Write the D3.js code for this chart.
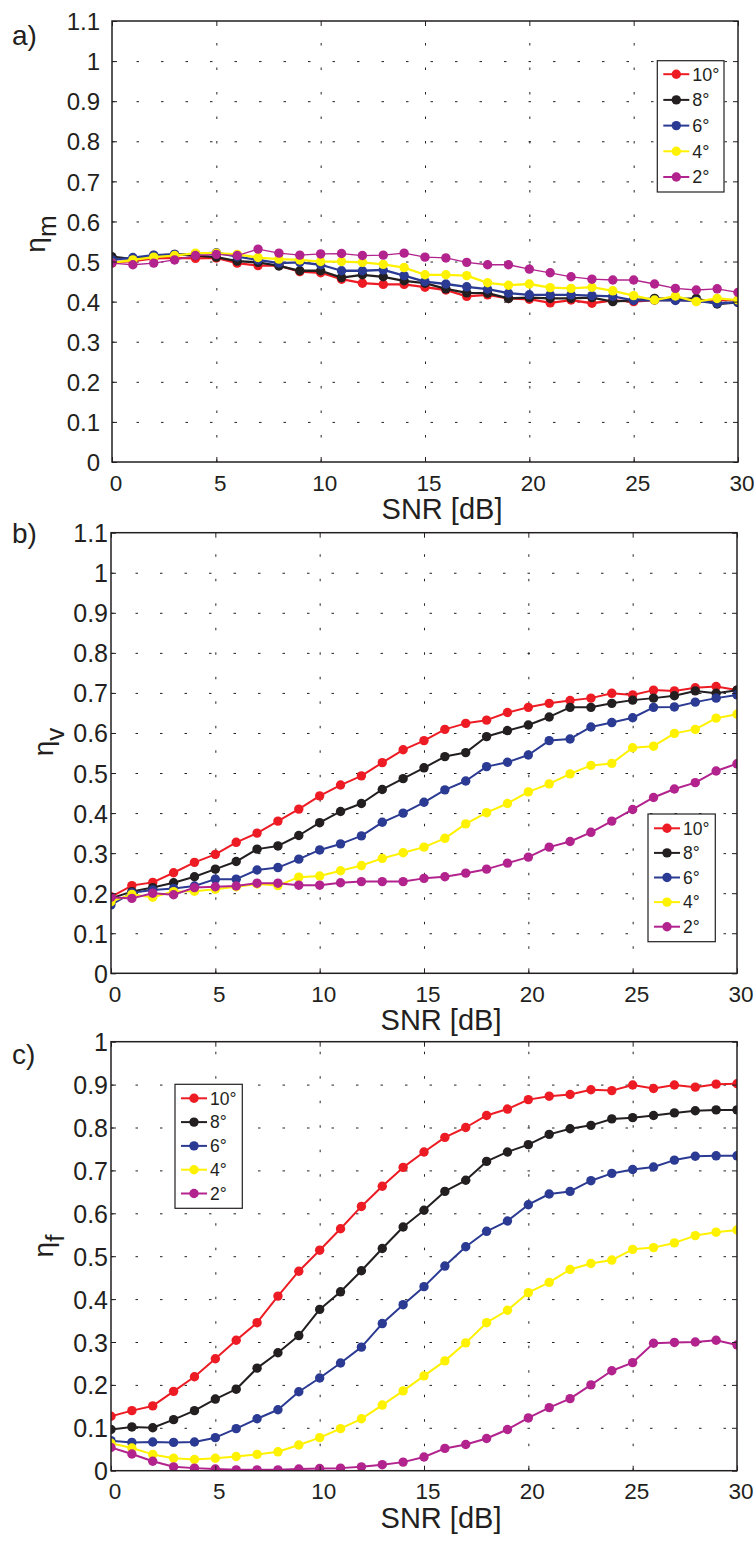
<!DOCTYPE html>
<html><head><meta charset="utf-8">
<script src="https://cdn.jsdelivr.net/npm/d3@7"></script>
<style>
body{margin:0;background:#fff}
svg{display:block}
text{font-family:"Liberation Sans",Arial,Helvetica,sans-serif;fill:#231f20}
</style>
</head><body>
<svg id="chart" width="756" height="1547"></svg>
<script>
// ---------- data ----------
const snr = [0,1,2,3,4,5,6,7,8,9,10,11,12,13,14,15,16,17,18,19,20,21,22,23,24,25,26,27,28,29,30];
const angleLabels = ["10°","8°","6°","4°","2°"];
const xTicks = [0,5,10,15,20,25,30];
const yTicksA = [0,0.1,0.2,0.3,0.4,0.5,0.6,0.7,0.8,0.9,1,1.1];
const yTicksC = [0,0.1,0.2,0.3,0.4,0.5,0.6,0.7,0.8,0.9,1];

// a) eta_m
const etaM10 = [0.498,0.501,0.508,0.509,0.508,0.509,0.496,0.490,0.490,0.475,0.472,0.456,0.446,0.443,0.443,0.436,0.429,0.413,0.417,0.408,0.406,0.397,0.404,0.396,0.403,0.400,0.404,0.404,0.403,0.404,0.404];
const etaM8  = [0.512,0.506,0.515,0.518,0.515,0.511,0.501,0.498,0.489,0.477,0.477,0.460,0.467,0.462,0.452,0.446,0.432,0.422,0.421,0.408,0.410,0.408,0.408,0.410,0.400,0.404,0.408,0.406,0.408,0.394,0.398];
const etaM6  = [0.504,0.510,0.516,0.518,0.519,0.522,0.512,0.504,0.496,0.498,0.492,0.477,0.477,0.479,0.465,0.450,0.444,0.437,0.431,0.421,0.417,0.417,0.417,0.415,0.413,0.403,0.404,0.403,0.402,0.396,0.398];
const etaM4  = [0.496,0.504,0.511,0.515,0.521,0.521,0.518,0.510,0.506,0.504,0.500,0.500,0.498,0.493,0.485,0.467,0.467,0.465,0.447,0.441,0.444,0.435,0.433,0.436,0.427,0.415,0.404,0.414,0.400,0.408,0.404];
const etaM2  = [0.496,0.492,0.496,0.504,0.515,0.518,0.515,0.531,0.521,0.516,0.519,0.520,0.515,0.516,0.521,0.511,0.509,0.498,0.492,0.492,0.481,0.472,0.462,0.456,0.454,0.454,0.444,0.433,0.429,0.432,0.423];

// b) eta_v
const etaV10 = [0.191,0.219,0.227,0.251,0.277,0.297,0.327,0.350,0.380,0.410,0.443,0.470,0.493,0.526,0.558,0.581,0.609,0.624,0.632,0.651,0.664,0.674,0.681,0.687,0.699,0.695,0.707,0.705,0.713,0.716,0.707];
const etaV8  = [0.187,0.204,0.214,0.226,0.241,0.260,0.279,0.310,0.318,0.344,0.376,0.404,0.424,0.459,0.486,0.513,0.541,0.551,0.591,0.606,0.620,0.640,0.664,0.664,0.674,0.682,0.687,0.693,0.705,0.699,0.707];
const etaV6  = [0.171,0.201,0.208,0.212,0.218,0.235,0.235,0.258,0.264,0.285,0.308,0.323,0.343,0.377,0.400,0.427,0.458,0.480,0.516,0.527,0.545,0.581,0.585,0.615,0.626,0.638,0.664,0.665,0.677,0.687,0.695];
const etaV4  = [0.179,0.197,0.190,0.204,0.205,0.210,0.216,0.223,0.219,0.240,0.243,0.256,0.269,0.287,0.301,0.315,0.337,0.373,0.401,0.424,0.453,0.473,0.498,0.519,0.524,0.563,0.567,0.599,0.609,0.637,0.647];
const etaV2  = [0.190,0.187,0.200,0.196,0.214,0.216,0.218,0.225,0.225,0.220,0.220,0.226,0.229,0.229,0.229,0.237,0.241,0.250,0.260,0.275,0.290,0.315,0.329,0.352,0.380,0.409,0.439,0.460,0.476,0.505,0.523];

// c) eta_f
const etaF10 = [0.127,0.140,0.151,0.185,0.219,0.261,0.304,0.345,0.407,0.465,0.514,0.564,0.616,0.663,0.707,0.743,0.777,0.800,0.828,0.843,0.865,0.873,0.877,0.888,0.886,0.899,0.891,0.899,0.894,0.901,0.902];
const etaF8  = [0.096,0.102,0.100,0.119,0.140,0.167,0.190,0.239,0.275,0.315,0.376,0.417,0.466,0.518,0.568,0.607,0.651,0.677,0.721,0.743,0.760,0.784,0.797,0.805,0.820,0.823,0.828,0.834,0.839,0.841,0.841];
const etaF6  = [0.070,0.066,0.067,0.066,0.067,0.077,0.098,0.121,0.142,0.184,0.216,0.251,0.288,0.343,0.387,0.429,0.477,0.522,0.558,0.582,0.620,0.645,0.651,0.676,0.693,0.702,0.708,0.724,0.733,0.734,0.734];
const etaF4  = [0.064,0.053,0.038,0.029,0.026,0.029,0.033,0.038,0.044,0.060,0.077,0.098,0.121,0.153,0.186,0.221,0.256,0.298,0.345,0.374,0.415,0.439,0.469,0.483,0.491,0.516,0.520,0.531,0.548,0.556,0.561];
const etaF2  = [0.054,0.039,0.022,0.009,0.006,0.004,0.002,0.002,0.002,0.004,0.005,0.006,0.009,0.014,0.020,0.032,0.052,0.061,0.075,0.096,0.123,0.147,0.168,0.200,0.233,0.252,0.297,0.299,0.300,0.304,0.293];

// ---------- styles / layout ----------
const colors = ["#ED1C24","#231F20","#2B3A93","#FFF200","#B2238E"];
const panels = [
  {letter:"a)", letterY:45, sub:"m", series:[etaM10,etaM8,etaM6,etaM4,etaM2], ymax:1.1, yTicks:yTicksA,
   box:{l:112,r:738,t:21,b:462}, tickFs:24, tickGap:12, ylabX:45, ylabY:234,
   widths:[2.3,2.3,2.3,2.3,1.3], legend:{x:657.3,y:60.7,w:66.7,h:131.3,row:25.7,first:13.5,fs:18}},
  {letter:"b)", letterY:543, sub:"v", series:[etaV10,etaV8,etaV6,etaV4,etaV2], ymax:1.1, yTicks:yTicksA,
   box:{l:111,r:737,t:532.7,b:973.3}, tickFs:25, tickGap:3, ylabX:53, ylabY:742,
   widths:[2,2,2,2,2], legend:{x:648,y:814,w:67.3,h:127.7,row:24.6,first:14.3,fs:17.5}},
  {letter:"c)", letterY:1064, sub:"f", series:[etaF10,etaF8,etaF6,etaF4,etaF2], ymax:1.0, yTicks:yTicksC,
   box:{l:111,r:737,t:1041.7,b:1470.7}, tickFs:25, tickGap:3, ylabX:53, ylabY:1246,
   widths:[2,2,2,2,2], legend:{x:175,y:1084.3,w:67.3,h:124,row:23.8,first:14,fs:17.5}}
];

const svg = d3.select("#chart");
const fmt = d => String(+d.toFixed(1));

panels.forEach((p, pi) => {
  const {l,r,t,b} = p.box;
  const x = d3.scaleLinear().domain([0,30]).range([l,r]);
  const y = d3.scaleLinear().domain([0,p.ymax]).range([b,t]);
  const g = svg.append("g");

  // grid
  const gx = g.append("g").attr("transform",`translate(0,${b})`)
    .call(d3.axisBottom(x).tickValues(xTicks.slice(1,-1)).tickSize(-(b-t)).tickFormat(""));
  const gy = g.append("g").attr("transform",`translate(${l},0)`)
    .call(d3.axisLeft(y).tickValues(p.yTicks.slice(1).filter(v=>v<p.ymax-1e-9)).tickSize(-(r-l)).tickFormat(""));
  [gx,gy].forEach(a=>{
    a.select(".domain").remove();
    a.selectAll("line").attr("stroke","#222").attr("stroke-width",1).attr("stroke-dasharray","2.5,22");
  });

  // data
  const clipId = "clip"+pi;
  g.append("clipPath").attr("id",clipId).append("rect")
    .attr("x",l).attr("y",t).attr("width",r-l).attr("height",b-t);
  const dg = g.append("g").attr("clip-path",`url(#${clipId})`);
  const line = d3.line().x((d,i)=>x(snr[i])).y(d=>y(d));
  p.series.forEach((s,si)=>{
    const sg = dg.append("g");
    sg.append("path").attr("d",line(s)).attr("fill","none")
      .attr("stroke",colors[si]).attr("stroke-width",p.widths[si]).attr("stroke-linejoin","round");
    sg.selectAll("circle").data(s).join("circle")
      .attr("cx",(d,i)=>x(snr[i])).attr("cy",d=>y(d)).attr("r",4.7).attr("fill",colors[si]);
  });

  // frame and inward ticks
  g.append("rect").attr("x",l).attr("y",t).attr("width",r-l).attr("height",b-t)
    .attr("fill","none").attr("stroke","#231f20").attr("stroke-width",1.5);
  const tk = (axis, tr) => {
    const a = g.append("g").attr("transform",tr).call(axis);
    a.select(".domain").remove();
    a.selectAll("line").attr("stroke","#231f20").attr("stroke-width",1);
    a.selectAll("text").remove();
  };
  tk(d3.axisBottom(x).tickValues(xTicks).tickSize(-5), `translate(0,${b})`);
  tk(d3.axisTop(x).tickValues(xTicks).tickSize(-5), `translate(0,${t})`);
  tk(d3.axisLeft(y).tickValues(p.yTicks).tickSize(-5), `translate(${l},0)`);
  tk(d3.axisRight(y).tickValues(p.yTicks).tickSize(-5), `translate(${r},0)`);

  // tick labels
  const xl = g.append("g").attr("transform",`translate(0,${b})`)
    .call(d3.axisBottom(x).tickValues(xTicks).tickSize(0).tickFormat(fmt));
  xl.select(".domain").remove();
  xl.selectAll("text").attr("y",28.5).attr("dy",null).attr("dx",3.5)
    .attr("font-size",22.5).attr("fill","#231f20").attr("font-family",null);
  const yl = g.append("g").attr("transform",`translate(${l},0)`)
    .call(d3.axisLeft(y).tickValues(p.yTicks).tickSize(0).tickPadding(p.tickGap).tickFormat(fmt));
  yl.select(".domain").remove();
  yl.selectAll("text").attr("dy","0.36em").attr("font-size",p.tickFs).attr("fill","#231f20").attr("font-family",null);

  // axis labels
  g.append("text").attr("x",(l+r)/2+17).attr("y",b+57).attr("text-anchor","middle")
    .attr("font-size",29).text("SNR [dB]");
  const yt = g.append("text").attr("transform",`translate(${p.ylabX},${p.ylabY}) rotate(-90)`)
    .attr("text-anchor","middle").attr("font-size",28);
  yt.append("tspan").text("η");
  yt.append("tspan").attr("dy",11).attr("font-size",26).text(p.sub);

  // panel letter
  g.append("text").attr("x",12).attr("y",p.letterY).attr("font-size",28).text(p.letter);

  // legend
  const L = p.legend;
  const lg = g.append("g");
  lg.append("rect").attr("x",L.x).attr("y",L.y).attr("width",L.w).attr("height",L.h)
    .attr("fill","#fff").attr("stroke","#231f20").attr("stroke-width",1.2);
  angleLabels.forEach((lab,si)=>{
    const cy = L.y + L.first + si*L.row;
    lg.append("line").attr("x1",L.x+6).attr("x2",L.x+32).attr("y1",cy).attr("y2",cy)
      .attr("stroke",colors[si]).attr("stroke-width",2);
    lg.append("circle").attr("cx",L.x+19).attr("cy",cy).attr("r",4.7).attr("fill",colors[si]);
    lg.append("text").attr("x",L.x+35).attr("y",cy).attr("dy","0.36em")
      .attr("font-size",L.fs).text(lab);
  });
});
</script>
</body></html>
